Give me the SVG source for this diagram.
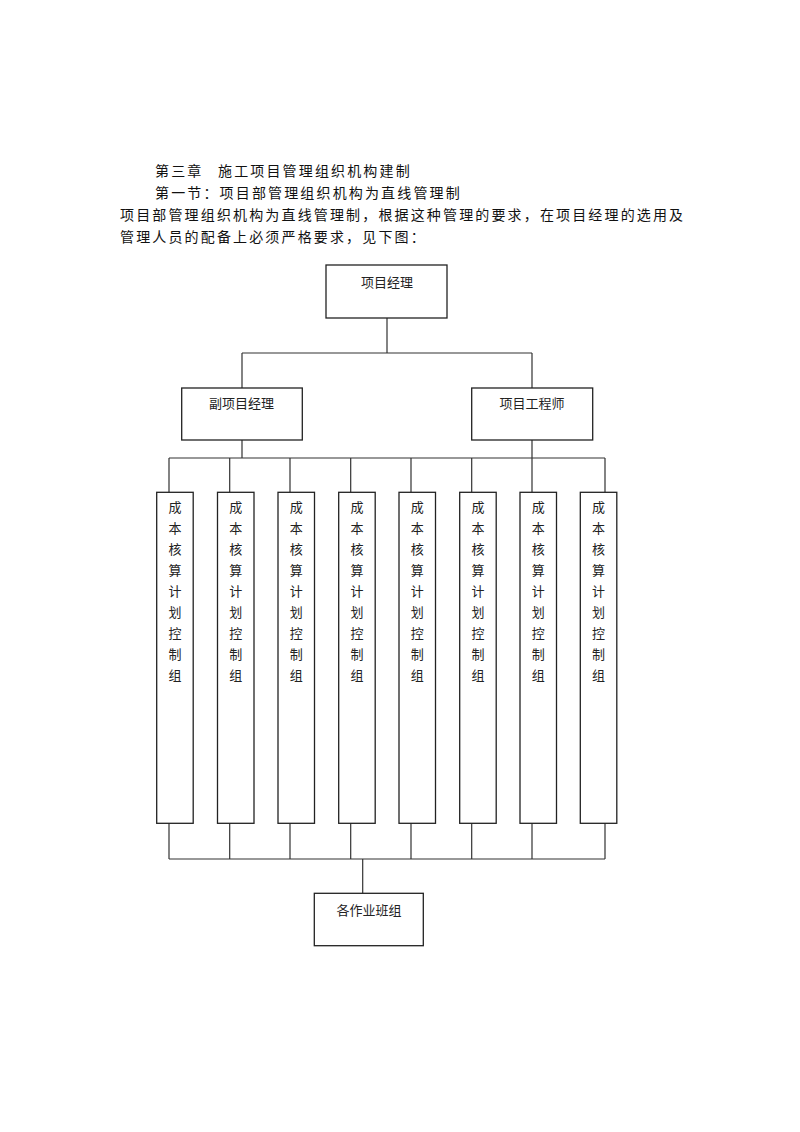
<svg xmlns="http://www.w3.org/2000/svg" width="800" height="1132" viewBox="0 0 800 1132">
<style>
.bg{fill:#fff}
.box{fill:#fff;stroke:#222;stroke-width:1.3}
.ln{fill:none;stroke:#333;stroke-width:1.2}
.para{font-family:"Noto Sans CJK SC","Noto Sans",sans-serif;font-size:14px;fill:#111;letter-spacing:2.15px}
.lbl{font-family:"Noto Sans CJK SC","Noto Sans",sans-serif;font-size:13px;fill:#222;text-anchor:middle}
</style>
<defs>
<g id="tall">
<rect class="box" x="0" y="0" width="36.5" height="331"/>
<text class="lbl" x="18.25" y="19.6">成</text>
<text class="lbl" x="18.25" y="40.6">本</text>
<text class="lbl" x="18.25" y="61.6">核</text>
<text class="lbl" x="18.25" y="82.6">算</text>
<text class="lbl" x="18.25" y="103.6">计</text>
<text class="lbl" x="18.25" y="124.6">划</text>
<text class="lbl" x="18.25" y="145.6">控</text>
<text class="lbl" x="18.25" y="166.6">制</text>
<text class="lbl" x="18.25" y="187.6">组</text>
</g>
</defs>
<rect class="bg" x="0" y="0" width="800" height="1132"/>
<g id="heading">
<text class="para" x="155" y="176">第三章</text>
<text class="para" x="218" y="176">施工项目管理组织机构建制</text>
<text class="para" x="155" y="198">第一节：项目部管理组织机构为直线管理制</text>
<text class="para" x="120" y="220">项目部管理组织机构为直线管理制，根据这种管理的要求，在项目经理的选用及</text>
<text class="para" x="120" y="242">管理人员的配备上必须严格要求，见下图：</text>
</g>
<g id="connectors">
<path class="ln" d="M387 318 V353 M242 353 H532 M242 353 V388 M532 353 V388"/>
<path class="ln" d="M242 440 V458 M532 440 V458 M169 458 H605"/>
<path class="ln" d="M169 458 V492 M229.7 458 V492 M290 458 V492 M350.7 458 V492 M411 458 V492 M471.7 458 V492 M532 458 V492 M605 458 V492"/>
<path class="ln" d="M169 823 V859 M229.7 823 V859 M290 823 V859 M350.7 823 V859 M411 823 V859 M471.7 823 V859 M532 823 V859 M605 823 V859 M169 859 H605"/>
<path class="ln" d="M362.7 859 V893"/>
</g>
<g id="pm">
<rect class="box" x="326" y="265" width="121" height="53"/>
<text class="lbl" x="387" y="286.5">项目经理</text>
</g>
<g id="deputy">
<rect class="box" x="181.7" y="388" width="120.6" height="52"/>
<text class="lbl" x="241.5" y="408">副项目经理</text>
</g>
<g id="engineer">
<rect class="box" x="471.7" y="388" width="121" height="52"/>
<text class="lbl" x="532" y="408">项目工程师</text>
</g>
<g id="group1"><use href="#tall" x="156.7" y="492.3"/></g>
<g id="group2"><use href="#tall" x="217.5" y="492.3"/></g>
<g id="group3"><use href="#tall" x="278" y="492.3"/></g>
<g id="group4"><use href="#tall" x="338.7" y="492.3"/></g>
<g id="group5"><use href="#tall" x="399" y="492.3"/></g>
<g id="group6"><use href="#tall" x="459.7" y="492.3"/></g>
<g id="group7"><use href="#tall" x="520" y="492.3"/></g>
<g id="group8"><use href="#tall" x="580.3" y="492.3"/></g>
<g id="teams">
<rect class="box" x="314.3" y="893.3" width="109" height="52.4"/>
<text class="lbl" x="369" y="915">各作业班组</text>
</g>
</svg>
